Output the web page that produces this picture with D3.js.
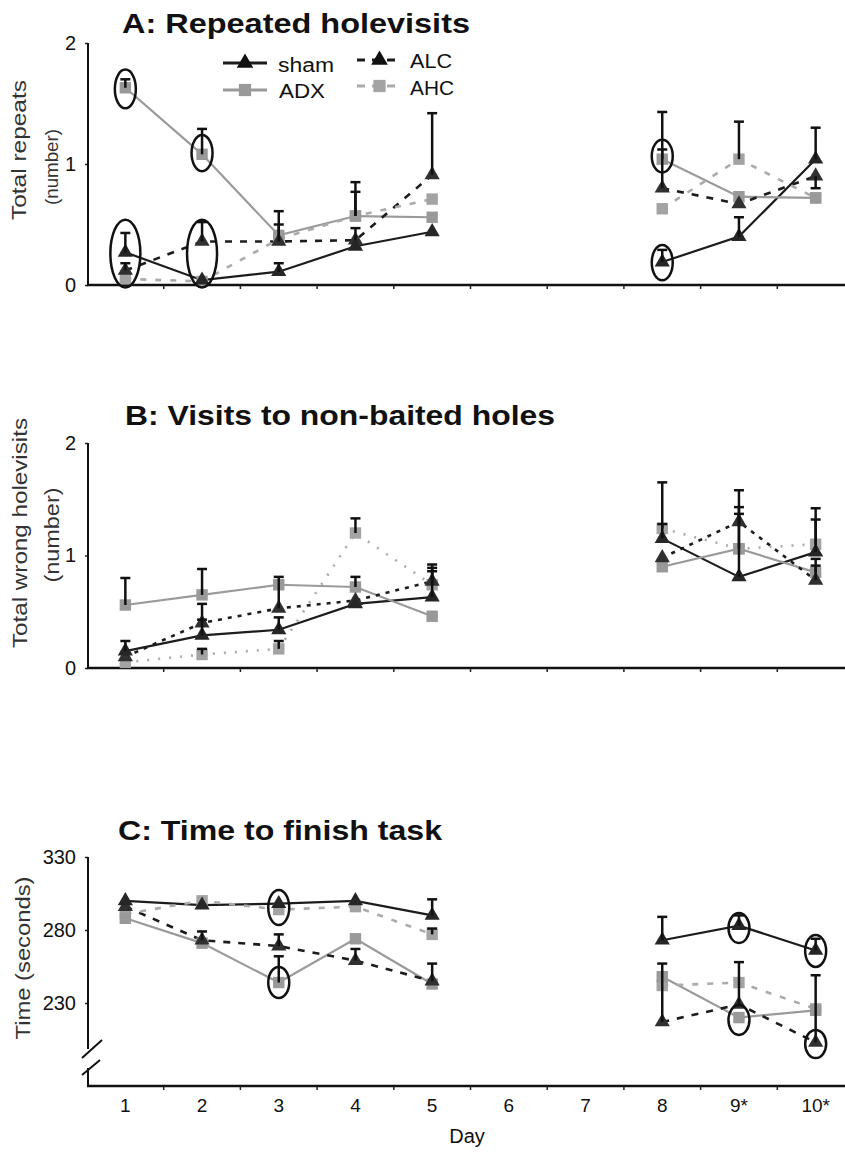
<!DOCTYPE html>
<html><head><meta charset="utf-8">
<script src="https://cdn.jsdelivr.net/npm/d3@7"></script>
<style>
body{margin:0;background:#fff}
svg{display:block}
text{font-family:"Liberation Sans", Arial, Helvetica, sans-serif}
</style>
</head><body>
<svg id="chart" width="845" height="1155"></svg>
<script>
// ---------- DATA ----------
const days = ["1","2","3","4","5","6","7","8","9*","10*"];
const seriesNames = ["sham","ADX","ALC","AHC"];

// Panel A: Total repeats (number)
const aSham = [0.27,0.04,0.11,0.32,0.44,null,null,0.19,0.40,1.04];
const aADX  = [1.63,1.08,0.41,0.57,0.56,null,null,1.04,0.73,0.72];
const aALC  = [0.12,0.36,0.36,0.37,0.91,null,null,0.80,0.67,0.90];
const aAHC  = [0.05,0.03,0.38,0.57,0.71,null,null,0.63,1.04,0.72];
const aShamErr = [0.43,null,0.18,null,null,null,null,0.29,0.56,1.30];
const aADXErr  = [1.70,1.29,0.61,0.85,null,null,null,1.12,null,null];
const aALCErr  = [0.18,0.52,0.50,0.47,1.42,null,null,1.43,null,0.80];
const aAHCErr  = [null,null,null,0.77,null,null,null,null,1.35,null];

// Panel B: Total wrong holevisits (number)
const bSham = [0.15,0.29,0.34,0.57,0.63,null,null,1.15,0.81,1.03];
const bADX  = [0.56,0.65,0.74,0.72,0.46,null,null,0.90,1.06,0.85];
const bALC  = [0.10,0.40,0.53,0.60,0.77,null,null,0.98,1.30,0.78];
const bAHC  = [0.05,0.12,0.17,1.20,0.74,null,null,1.24,1.06,1.10];
const bShamErr = [0.24,0.43,0.45,null,0.86,null,null,1.65,1.37,1.32];
const bADXErr  = [0.80,0.88,null,0.81,null,null,null,null,1.43,0.97];
const bALCErr  = [null,0.57,0.81,null,0.92,null,null,null,1.58,0.91];
const bAHCErr  = [null,0.17,0.24,1.33,0.89,null,null,1.28,null,1.42];

// Panel C: Time (seconds)
const cSham = [300,297,298,300,290,null,null,273,283,266];
const cADX  = [288,271,244,274,243,null,null,248,220,225];
const cALC  = [296,273,269,259,245,null,null,217,229,203];
const cAHC  = [291,300,294,296,277,null,null,242,244,226];
const cShamErr = [null,null,null,null,301,null,null,289,290,274];
const cADXErr  = [null,null,262,null,null,null,null,null,null,null];
const cALCErr  = [null,279,277,267,257,null,null,257,258,249];
const cAHCErr  = [null,null,null,null,281,null,null,null,null,null];

const ticksAB = [0,1,2];
const ticksC = [230,280,330];

// circled points: [day, lower value, upper value]
const circlesA = [["1",1.46,1.78],["2",0.94,1.24],["1",-0.02,0.54],["2",-0.02,0.54],["8",0.93,1.20],["8",0.04,0.33]];
const circlesC = [["3",283.4,307.4],["3",233.4,254.7],["9*",271.1,291.6],["9*",208.1,228.6],["10*",254.7,276.6],["10*",192.3,211.5]];

// ---------- STYLE ----------
const svg = d3.select("#chart");
const style = {
  sham:{color:"#1c1c1c", mark:"#262626", dash:null, sym:d3.symbolTriangle, size:100},
  ADX:{color:"#9a9a9a", mark:"#999999", dash:null, sym:d3.symbolSquare, size:130},
  ALC:{color:"#1c1c1c", mark:"#303030", dash:"7,8", sym:d3.symbolTriangle, size:100},
  AHC:{color:"#ababab", mark:"#a3a3a3", dash:"6,9", sym:d3.symbolSquare, size:130}
};

const x = d3.scaleBand().domain(days).range([87, 854]);
const xc = d => x(d) + x.bandwidth()/2;

const panels = [
  {id:"A", title:"A: Repeated holevisits", titleX:122, titleY:33, titleLen:348,
   y:d3.scaleLinear().domain([0,2]).range([285,43]), axisBottom:285, ticks:ticksAB,
   data:{sham:[aSham,aShamErr],ADX:[aADX,aADXErr],ALC:[aALC,aALCErr],AHC:[aAHC,aAHCErr]},
   ytitle:[{t:"Total repeats",x:26,len:140,fs:21,cy:150},{t:"(number)",x:58,len:76,fs:19,cy:167}],
   circles:circlesA, dashOverride:{}},
  {id:"B", title:"B: Visits to non-baited holes", titleX:125, titleY:425, titleLen:430,
   y:d3.scaleLinear().domain([0,2]).range([668,443]), axisBottom:668, ticks:ticksAB,
   data:{sham:[bSham,bShamErr],ADX:[bADX,bADXErr],ALC:[bALC,bALCErr],AHC:[bAHC,bAHCErr]},
   ytitle:[{t:"Total wrong holevisits",x:27,len:230,fs:21,cy:533},{t:"(number)",x:59,len:95,fs:20,cy:535}],
   circles:[], dashOverride:{ALC:"4,6", AHC:"2,9"}},
  {id:"C", title:"C: Time to finish task", titleX:118, titleY:840, titleLen:324,
   y:d3.scaleLinear().domain([230,330]).range([1003,857]), axisBottom:1086, ticks:ticksC,
   data:{sham:[cSham,cShamErr],ADX:[cADX,cADXErr],ALC:[cALC,cALCErr],AHC:[cAHC,cAHCErr]},
   ytitle:[{t:"Time (seconds)",x:30,len:163,fs:21,cy:958}],
   circles:circlesC, dashOverride:{}, broken:true}
];

panels.forEach(p => {
  const g = svg.append("g");
  const y = p.y;
  g.append("text").attr("x",p.titleX).attr("y",p.titleY)
    .attr("font-size",28).attr("font-weight","bold").attr("fill","#111")
    .attr("textLength",p.titleLen).attr("lengthAdjust","spacingAndGlyphs").text(p.title);
  p.ytitle.forEach(t => {
    g.append("text").attr("transform",`translate(${t.x},${t.cy}) rotate(-90)`)
      .attr("text-anchor","middle").attr("font-size",t.fs).attr("fill","#333")
      .attr("textLength",t.len).attr("lengthAdjust","spacingAndGlyphs").text(t.t);
  });
  const yAx = g.append("g").attr("transform","translate(88,0)")
    .call(d3.axisLeft(y).tickValues(p.ticks).tickSize(3).tickSizeOuter(0).tickFormat(d3.format("d")));
  yAx.select(".domain").remove();
  yAx.selectAll("text").attr("font-size",20).attr("fill","#111").attr("dx","-6")
    .attr("font-family","Liberation Sans, Arial, sans-serif");
  yAx.selectAll("line").attr("stroke","#222").attr("stroke-width",1.5);
  const yTop = y(p.ticks[p.ticks.length-1]);
  if (p.broken) {
    g.append("line").attr("x1",88).attr("x2",88).attr("y1",yTop).attr("y2",1049).attr("stroke","#111").attr("stroke-width",2);
    g.append("line").attr("x1",88).attr("x2",88).attr("y1",1068).attr("y2",p.axisBottom).attr("stroke","#111").attr("stroke-width",2);
    g.append("line").attr("x1",82).attr("y1",1058).attr("x2",102).attr("y2",1040).attr("stroke","#111").attr("stroke-width",2);
    g.append("line").attr("x1",82).attr("y1",1075).attr("x2",100).attr("y2",1060).attr("stroke","#111").attr("stroke-width",2);
  } else {
    g.append("line").attr("x1",88).attr("x2",88).attr("y1",yTop).attr("y2",p.axisBottom).attr("stroke","#111").attr("stroke-width",2);
  }
  g.append("line").attr("x1",87).attr("x2",845).attr("y1",p.axisBottom).attr("y2",p.axisBottom)
    .attr("stroke","#111").attr("stroke-width",2.5);
  g.selectAll(".bt").data(d3.range(1,days.length)).join("line")
    .attr("x1",i => x.range()[0] + i*x.step()).attr("x2",i => x.range()[0] + i*x.step())
    .attr("y1",p.axisBottom).attr("y2",p.axisBottom+4).attr("stroke","#222").attr("stroke-width",1.5);

  seriesNames.forEach(s => {
    const vals = p.data[s][0];
    const st = style[s];
    const dash = p.dashOverride[s] !== undefined ? p.dashOverride[s] : st.dash;
    const line = d3.line().defined(d => d[1] !== null).x(d => xc(d[0])).y(d => y(d[1]));
    g.append("path").datum(days.map((d,i)=>[d,vals[i]]))
      .attr("d",line).attr("fill","none").attr("stroke",st.color)
      .attr("stroke-width", dash ? 2.6 : 2.2).attr("stroke-dasharray",dash);
  });
  ["AHC","ADX","ALC","sham"].forEach(s => {
    const vals = p.data[s][0];
    const st = style[s];
    g.selectAll(null).data(days.map((d,i)=>[d,vals[i]]).filter(d=>d[1]!==null)).join("path")
      .attr("transform",d=>`translate(${xc(d[0])},${y(d[1])})`)
      .attr("d",d3.symbol().type(st.sym).size(st.size)).attr("fill",st.mark);
  });
  seriesNames.forEach(s => {
    const vals = p.data[s][0], errs = p.data[s][1];
    const eb = days.map((d,i)=>[d,vals[i],errs[i]]).filter(d=>d[1]!==null && d[2]!==null);
    g.selectAll(null).data(eb).join("line")
      .attr("x1",d=>xc(d[0])).attr("x2",d=>xc(d[0])).attr("y1",d=>y(d[1])).attr("y2",d=>y(d[2]))
      .attr("stroke","#111").attr("stroke-width",2.5);
    g.selectAll(null).data(eb).join("line")
      .attr("x1",d=>xc(d[0])-5).attr("x2",d=>xc(d[0])+5).attr("y1",d=>y(d[2])).attr("y2",d=>y(d[2]))
      .attr("stroke","#111").attr("stroke-width",2.5);
  });
  p.circles.forEach(c => {
    const top = y(c[2]), bot = y(c[1]);
    const ry = (bot-top)/2;
    g.append("ellipse").attr("cx",xc(c[0])).attr("cy",(top+bot)/2)
      .attr("rx", ry > 25 ? 15 : 10.5).attr("ry",ry)
      .attr("fill","none").attr("stroke","#111").attr("stroke-width",2.5);
  });
  if (p.id === "C") {
    const xa = g.append("g").attr("transform",`translate(0,${p.axisBottom})`)
      .call(d3.axisBottom(x).tickSize(0).tickPadding(13));
    xa.select(".domain").remove();
    xa.selectAll("text").attr("font-size",19).attr("fill","#111")
      .attr("font-family","Liberation Sans, Arial, sans-serif");
    g.append("text").attr("x",467).attr("y",1143).attr("text-anchor","middle")
      .attr("font-size",20).attr("fill","#111").text("Day");
  }
});

// ---------- LEGEND ----------
const leg = svg.append("g");
const legendItems = [
  {s:"sham", x1:223, x2:267, y:63, tx:278, ty:72, len:56},
  {s:"ADX",  x1:223, x2:267, y:90, tx:279, ty:98, len:46},
  {s:"ALC",  x1:357, x2:402, y:60, tx:410, ty:68, len:42},
  {s:"AHC",  x1:357, x2:402, y:86, tx:410, ty:95, len:44}
];
legendItems.forEach(it => {
  const st = style[it.s];
  leg.append("line").attr("x1",it.x1).attr("x2",it.x2).attr("y1",it.y).attr("y2",it.y)
    .attr("stroke",st.color).attr("stroke-width",3).attr("stroke-dasharray", st.dash ? "8,7" : null);
  leg.append("path").attr("transform",`translate(${(it.x1+it.x2)/2},${it.y})`)
    .attr("d",d3.symbol().type(st.sym).size(st.size+20)).attr("fill", it.s==="sham"||it.s==="ALC" ? "#111" : st.mark);
  leg.append("text").attr("x",it.tx).attr("y",it.ty).attr("font-size",20).attr("fill","#111")
    .attr("textLength",it.len).attr("lengthAdjust","spacingAndGlyphs").text(it.s);
});
</script>
</body></html>
